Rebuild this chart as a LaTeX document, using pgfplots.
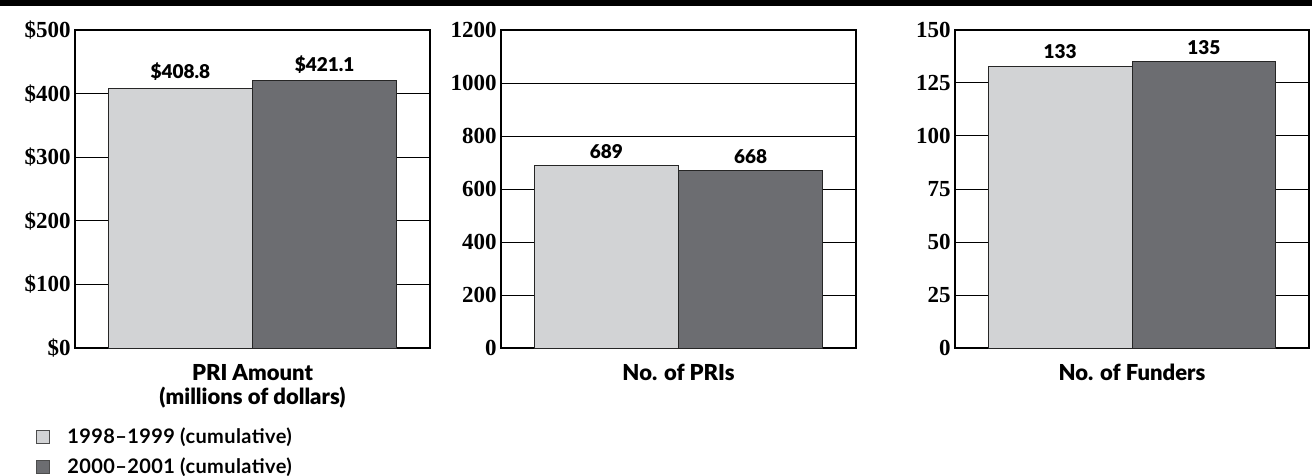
\documentclass[border=0pt]{standalone}
\usepackage{pgfplots}
\pgfplotsset{compat=1.18}
\usepackage{fontspec}
\setmainfont{Liberation Serif}
\newfontfamily\lato{Lato}
\newfontfamily\latoblack{Lato Black}
\newfontfamily\latowide[LetterSpace=2]{Lato}

\definecolor{lightbar}{HTML}{D2D3D5}
\definecolor{darkbar}{HTML}{6C6D71}

\pgfplotsset{
  panel/.style={
    scale only axis, width=177.5pt, height=159pt,
    anchor=south west,
    ybar, bar width=1, bar shift=0pt,
    xmin=0.27, xmax=2.73, ymin=0,
    xtick=\empty,
    major tick length=0pt,
    ymajorgrids, grid style={black, line width=0.5pt},
    axis line style={line width=0.8pt},
    /pgf/number format/assume math mode=true,
    /pgf/number format/1000 sep={},
    yticklabel style={font=\fontsize{11.5}{13}\selectfont\bfseries, inner sep=2pt},
    nodes near coords,
    nodes near coords style={font=\latoblack\fontsize{9.5}{11}\selectfont},
    xlabel style={font=\latoblack\fontsize{11}{12}\selectfont, align=center,
      at={(axis description cs:0.5,0)}, anchor=north, yshift=-4.5pt},
    every axis plot/.append style={draw=black!85, line width=0.5pt},
  },
}

\begin{document}
\begin{tikzpicture}
\path[use as bounding box] (0,0) rectangle (656pt,-238pt);
\fill[black] (0,0) rectangle (656pt,-3pt);

% PRI amount
\begin{axis}[panel, at={(37.5pt,-174pt)},
    ymax=500, ytick={0,100,...,500},
    yticklabels={\$0,\$100,\$200,\$300,\$400,\$500},
    point meta=explicit symbolic,
    xlabel={PRI Amount\\(millions of dollars)},
    legend style={draw=none, fill=none, at={(axis description cs:-0.128,-0.225)},
      anchor=north west, font=\latowide\fontsize{10}{12}\selectfont\bfseries, row sep=1.5pt},
    legend cell align=left,
    legend image code/.code={
      \path[draw=none, fill=none] (0pt,0pt) -- (13.5pt,0pt);
      \draw[#1, draw=black!70, line width=0.4pt] (0pt,-3.25pt) rectangle (6.5pt,3.25pt);},
]
\addplot[fill=lightbar] coordinates {(1,408.8) [\$408.8]};
\addplot[fill=darkbar] coordinates {(2,421.1) [\$421.1]};
\legend{1998–1999 (cumulative), 2000–2001 (cumulative)}
\end{axis}

% number of PRIs
\begin{axis}[panel, at={(250.5pt,-174pt)},
    ymax=1200, ytick={0,200,...,1200},
    xlabel={No. of PRIs},
]
\addplot[fill=lightbar] coordinates {(1,689)};
\addplot[fill=darkbar] coordinates {(2,668)};
\end{axis}

% number of funders
\begin{axis}[panel, at={(477.5pt,-174pt)}, width=177pt,
    ymax=150, ytick={0,25,...,150},
    xlabel={No. of Funders},
]
\addplot[fill=lightbar] coordinates {(1,133)};
\addplot[fill=darkbar] coordinates {(2,135)};
\end{axis}
\end{tikzpicture}
\end{document}
